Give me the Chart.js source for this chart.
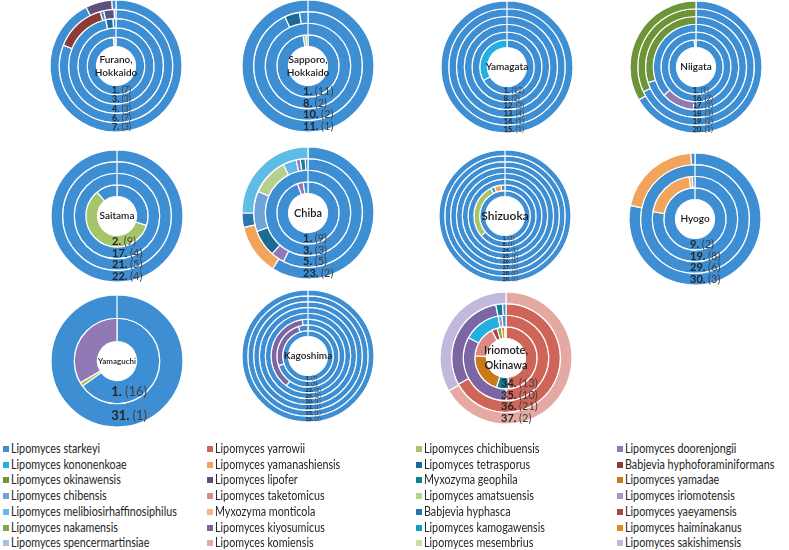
<!DOCTYPE html>
<html><head><meta charset="utf-8">
<script src="https://cdn.jsdelivr.net/npm/chart.js@4.4.1/dist/chart.umd.min.js"></script>
<style>
html,body{margin:0;padding:0;background:#fff;}
body{width:789px;height:550px;overflow:hidden;position:relative;font-family:Lato,'Liberation Sans',Arial,sans-serif;}
canvas.pie{position:absolute;}
.sw{position:absolute;width:6px;height:6px;}
.lg{position:absolute;font-size:12.5px;color:#262626;white-space:nowrap;line-height:14px;transform:scaleX(0.86);transform-origin:0 50%;}
</style></head><body>
<script>
const speciesNames = [
 'Lipomyces starkeyi','Lipomyces yarrowii','Lipomyces chichibuensis','Lipomyces doorenjongii',
 'Lipomyces kononenkoae','Lipomyces yamanashiensis','Lipomyces tetrasporus','Babjevia hyphoforaminiformans',
 'Lipomyces okinawensis','Lipomyces lipofer','Myxozyma geophila','Lipomyces yamadae',
 'Lipomyces chibensis','Lipomyces taketomicus','Lipomyces amatsuensis','Lipomyces iriomotensis',
 'Lipomyces melibiosirhaffinosiphilus','Myxozyma monticola','Babjevia hyphasca','Lipomyces yaeyamensis',
 'Lipomyces nakamensis','Lipomyces kiyosumicus','Lipomyces kamogawensis','Lipomyces haiminakanus',
 'Lipomyces spencermartinsiae','Lipomyces komiensis','Lipomyces mesembrius','Lipomyces sakishimensis'
];
const speciesColors = [
 '#3E8ED3','#CF6459','#A6C56A','#9079B4',
 '#22B0E0','#F2A45A','#1D6A94','#8C3B36',
 '#6E9438','#5C517F','#117F96','#C97A14',
 '#6FA3D8','#D98A84','#B7D08E','#A797C5',
 '#5EBCE6','#F7B77A','#2A75B0','#A84A44',
 '#7FA64A','#7B65A3','#16A0C8','#E68A1E',
 '#A3C3E6','#E5A9A4','#CADDA9','#C2B8DC'
];

// rings are listed from the innermost to the outermost; each segment is [species index, share]
const furanoLabels = ['1. (7)','3. (3)','4. (3)','6. (7)','7. (3)'];
const furanoRings = [
 [[0,98.5],[26,1.5]],
 [[0,100]],
 [[0,96.5],[6,2.5],[0,1]],
 [[0,81],[7,14.5],[0,1],[9,3],[0,0.5]],
 [[0,92.5],[9,6.5],[0,1]]
];
const sapporoLabels = ['1. (11)','8. (2)','10. (2)','11. (1)'];
const sapporoRings = [
 [[0,97.5],[2,1.5],[0,1]],
 [[0,100]],
 [[0,93],[6,4.5],[0,2.5]],
 [[0,100]]
];
const yamagataLabels = ['1. (12)','8. (2)','12. (3)','13. (4)','14. (1)','15. (1)'];
const yamagataRings = [
 [[0,66.7],[4,33.3]],
 [[0,100]],[[0,100]],[[0,100]],[[0,100]],[[0,100]]
];
const niigataLabels = ['1. (1)','16. (2)','17. (1)','18. (3)','19. (2)','20. (1)'];
const niigataRings = [
 [[0,99],[14,1]],
 [[0,100]],
 [[0,51],[3,12.5],[0,36.5]],
 [[0,70],[8,30]],
 [[0,68],[8,32]],
 [[0,66.7],[8,33.3]]
];
const saitamaLabels = ['2. (9)','17. (4)','21. (5)','22. (4)'];
const saitamaRings = [
 [[0,30],[2,59],[0,11]],
 [[0,100]],[[0,100]],[[0,100]]
];
const chibaLabels = ['1. (9)','3. (3)','5. (5)','23. (2)'];
const chibaRings = [
 [[0,94.5],[3,3],[0,2.5]],
 [[0,100]],
 [[0,57.5],[3,4],[6,8],[12,12],[14,11],[16,4],[3,1.2],[10,1.5],[0,0.8]],
 [[0,59],[5,12.5],[18,3.5],[16,25]]
];
const shizuokaLabels = ['1. (1)','8. (1)','24. (1)','25. (1)','26. (1)','27. (1)','28. (1)','29. (1)'];
const shizuokaRings = [
 [[0,100]],
 [[0,64],[2,28.5],[0,2],[5,3.5],[0,2]],
 [[0,100]],[[0,100]],[[0,100]],[[0,100]],[[0,100]],[[0,100]]
];
const hyogoLabels = ['9. (2)','19. (8)','29. (6)','30. (3)'];
const hyogoRings = [
 [[0,100]],
 [[0,77.8],[5,20],[17,1.2],[0,1]],
 [[0,100]],
 [[0,78.3],[5,20.7],[0,1]]
];
const yamaguchiLabels = ['1. (16)','31. (1)'];
const yamaguchiRings = [
 [[0,65],[2,1.5],[3,33.5]],
 [[0,100]]
];
const kagoshimaLabels = ['1. (7)','3. (3)','22. (2)','25. (2)','30. (1)','32. (1)','33. (1)','36. (2)'];
const kagoshimaRings = [
 [[0,100]],
 [[0,70],[21,25],[0,5]],
 [[0,60],[21,37.5],[0,2.5]],
 [[0,100]],[[0,100]],[[0,100]],[[0,100]],[[0,100]]
];
const iriomoteLabels = ['34. (13)','35. (10)','36. (21)','37. (2)'];
const iriomoteRings = [
 [[1,47.8],[10,6.4],[11,20.8],[13,16.1],[19,2.8],[20,2.2],[23,1.7],[0,0.7]],
 [[1,50],[21,33],[4,14],[15,1.5],[0,1.5]],
 [[1,67],[21,30],[10,2],[0,1]],
 [[25,66.7],[27,33.3]]
];

const sites = [
 {title:['Furano,','Hokkaido'], labels:furanoLabels, rings:furanoRings, cx:116, cy:66, fs:10},
 {title:['Sapporo,','Hokkaido'], labels:sapporoLabels, rings:sapporoRings, cx:308, cy:66, fs:10},
 {title:['Yamagata'], labels:yamagataLabels, rings:yamagataRings, cx:507, cy:67, fs:10},
 {title:['Niigata'], labels:niigataLabels, rings:niigataRings, cx:696, cy:67, fs:10},
 {title:['Saitama'], labels:saitamaLabels, rings:saitamaRings, cx:117, cy:216, fs:10},
 {title:['Chiba'], labels:chibaLabels, rings:chibaRings, cx:308, cy:213, fs:11},
 {title:['Shizuoka'], labels:shizuokaLabels, rings:shizuokaRings, cx:505, cy:216, fs:12},
 {title:['Hyogo'], labels:hyogoLabels, rings:hyogoRings, cx:695, cy:219, fs:10},
 {title:['Yamaguchi'], labels:yamaguchiLabels, rings:yamaguchiRings, cx:117, cy:361, fs:8},
 {title:['Kagoshima'], labels:kagoshimaLabels, rings:kagoshimaRings, cx:308, cy:356, fs:10},
 {title:['Iriomote,','Okinawa'], labels:iriomoteLabels, rings:iriomoteRings, cx:506, cy:358, fs:11}
];

const FONT = 'Lato,"Liberation Sans",sans-serif';
const ringText = {
 id:'ringText',
 afterDatasetsDraw(chart, args, opts){
  const ctx = chart.ctx;
  const site = opts.site;
  const n = chart.data.datasets.length;
  const a0 = chart.getDatasetMeta(0).data[0];
  const cx = a0.x, cy = a0.y;
  ctx.save();
  ctx.fillStyle = '#1a1a1a';
  ctx.textAlign = 'center';
  ctx.textBaseline = 'middle';
  ctx.font = '600 ' + site.fs + 'px ' + FONT;
  const lh = site.fs * 1.3;
  site.title.forEach((t, k) => {
    ctx.fillText(t, cx, cy + (k - (site.title.length - 1) / 2) * lh);
  });
  for (let i = 0; i < n; i++) {
    const arc = chart.getDatasetMeta(i).data[0];
    const r = (arc.innerRadius + arc.outerRadius) / 2;
    const th = arc.outerRadius - arc.innerRadius;
    const fs = Math.min(13, th * 0.95);
    const txt = chart.data.datasets[i].label;
    const sp = txt.indexOf(' ');
    const num = txt.slice(0, sp), par = txt.slice(sp + 1);
    ctx.textAlign = 'left';
    const x0 = cx - fs * 0.45;
    ctx.font = 'bold ' + fs + 'px ' + FONT;
    ctx.fillStyle = '#262626';
    ctx.fillText(num, x0, cy + r);
    const w = ctx.measureText(num + ' ').width;
    ctx.font = fs + 'px ' + FONT;
    ctx.fillStyle = '#404040';
    ctx.fillText(par, x0 + w, cy + r);
  }
  ctx.restore();
 }
};

sites.forEach(site => {
  const c = document.createElement('canvas');
  c.className = 'pie';
  c.width = 150; c.height = 150;
  c.style.left = (site.cx - 75) + 'px';
  c.style.top = (site.cy - 75) + 'px';
  document.body.appendChild(c);
  const outerFirst = site.rings.map((ring, i) => ({ring, label: site.labels[i]})).reverse();
  new Chart(c, {
    type: 'doughnut',
    data: {
      labels: [],
      datasets: outerFirst.map(o => ({
        label: o.label,
        data: o.ring.map(s => s[1]),
        backgroundColor: o.ring.map(s => speciesColors[s[0]]),
        borderColor: '#ffffff',
        borderWidth: 1.2
      }))
    },
    options: {
      responsive: false,
      animation: false,
      radius: 66,
      cutout: 22,
      layout: {padding: 0},
      plugins: {legend: {display: false}, tooltip: {enabled: false}, ringText: {site}}
    },
    plugins: [ringText]
  });
});

// legend (rows of four, as in the reference)
const colX = [3, 207, 416, 617];
const rowY0 = 449, rowH = 15.7;
speciesNames.forEach((name, i) => {
  const x = colX[i % 4], y = rowY0 + Math.floor(i / 4) * rowH;
  const s = document.createElement('div');
  s.className = 'sw';
  s.style.left = x + 'px';
  s.style.top = (y - 3) + 'px';
  s.style.background = speciesColors[i];
  document.body.appendChild(s);
  const d = document.createElement('div');
  d.className = 'lg';
  d.style.left = (x + 8) + 'px';
  d.style.top = (y - 7) + 'px';
  d.textContent = name;
  document.body.appendChild(d);
});
</script>
</body></html>
